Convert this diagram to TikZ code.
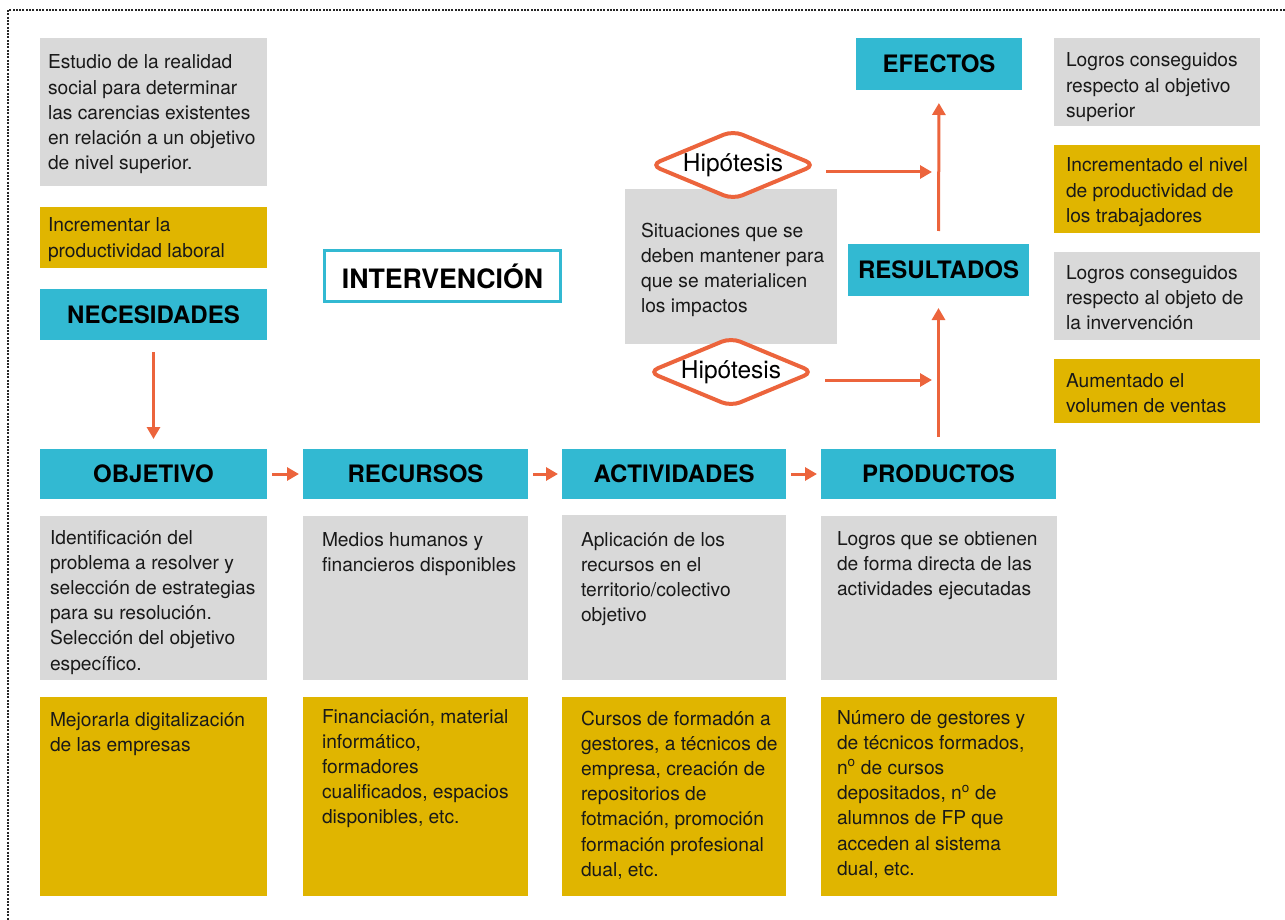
\documentclass[tikz,border=0pt]{standalone}
\usepackage{fontspec}
\setmainfont{TeX Gyre Heros}
\usetikzlibrary{arrows.meta,shapes.geometric,calc}

\definecolor{cian}{RGB}{50,185,210}
\definecolor{oro}{RGB}{224,181,0}
\definecolor{gris}{RGB}{217,217,217}
\definecolor{naranja}{RGB}{236,100,60}

% ancho, alto, margen izq., margen sup. (hasta la mayuscula), texto
\newcommand{\cajatxt}[5]{\parbox[t][#2pt][t]{#1pt}{\raggedright\leftskip=#3pt
	\rule{0pt}{\dimexpr#4pt+14pt\relax}#5}}
\newcommand{\nro}{n\textsuperscript{o}}

\begin{document}
\begin{tikzpicture}[x=1pt,y=-1pt,
	caja/.style={anchor=north west,inner sep=0pt,outer sep=0pt,
		text=black!90,font=\fontsize{19.2}{25.2}\selectfont},
	cabecera/.style={anchor=north west,fill=cian,inner sep=0pt,outer sep=0pt,
		font=\fontsize{24}{28}\selectfont\bfseries},
	hipotesis/.style={diamond,aspect=2.3,minimum width=166pt,minimum height=70pt,
		inner sep=0pt,draw=naranja,line width=4pt,fill=white,rounded corners=10pt,
		font=\fontsize{24.5}{28}\selectfont},
	flecha/.style={naranja,line width=3pt,-{Triangle[length=12pt,width=13pt]}},
	marco/.style={line width=2pt,dash pattern=on 2pt off 1.3pt,black!85}]

\useasboundingbox (0,0) rectangle (1285,920);

\draw[marco] (1285,10)--(8,10)--(8,920);

% columna izquierda
\node[caja,fill=gris] (estudio) at (40,38) {\cajatxt{227}{148}{8}{17}{Estudio de la realidad\\
	social para determinar\\las carencias existentes\\en relación a un objetivo\\de nivel superior.}};
\node[caja,fill=oro] (incrementar) at (40,207) {\cajatxt{227}{61}{8}{11}{Incrementar la\\productividad laboral}};
\node[cabecera,minimum width=227pt,minimum height=51pt] (necesidades) at (40,289) {NECESIDADES};

\node[draw=cian,line width=3pt,fill=white,minimum width=236pt,minimum height=51pt,inner sep=0pt,
	font=\fontsize{26.7}{30}\selectfont\bfseries] (intervencion) at (442.5,276) {INTERVENCIÓN};

% fila de cabeceras
\node[cabecera,minimum width=227pt,minimum height=50pt] (objetivo) at (40,449) {OBJETIVO};
\node[cabecera,minimum width=225pt,minimum height=50pt] (recursos) at (303,449) {RECURSOS};
\node[cabecera,minimum width=224pt,minimum height=50pt] (actividades) at (562,449) {ACTIVIDADES};
\node[cabecera,minimum width=235pt,minimum height=50pt] (productos) at (821,449) {PRODUCTOS};

% descripciones
\node[caja,fill=gris] (descobj) at (40,516) {\cajatxt{227}{164}{10}{14}{Identificación del\\
	problema a resolver y\\selección de estrategias\\para su resolución.\\Selección del objetivo\\específico.}};
\node[caja,fill=gris] (descrec) at (303,516) {\cajatxt{225}{164}{19}{16}{Medios humanos y\\financieros disponibles}};
\node[caja,fill=gris] (descact) at (562,515) {\cajatxt{224}{165}{19}{17}{Aplicación de los\\
	recursos en el\\territorio/colectivo\\objetivo}};
\node[caja,fill=gris] (descprod) at (821,516) {\cajatxt{236}{164}{16}{15}{Logros que se obtienen\\
	de forma directa de las\\actividades ejecutadas}};

% ejemplos
\node[caja,fill=oro] (ejobj) at (40,697) {\cajatxt{227}{199}{10}{15}{Mejorarla digitalización\\de las empresas}};
\node[caja,fill=oro] (ejrec) at (303,697) {\cajatxt{225}{199}{19}{12}{Financiación, material\\
	informático,\\formadores\\cualificados, espacios\\disponibles, etc.}};
\node[caja,fill=oro] (ejact) at (562,697) {\cajatxt{224}{199}{19}{14}{Cursos de formadón a\\
	gestores, a técnicos de\\empresa, creación de\\repositorios de\\fotmación, promoción\\
	formación profesional\\dual, etc.}};
\node[caja,fill=oro] (ejprod) at (821,697) {\cajatxt{236}{199}{16}{13}{Número de gestores y\\
	de técnicos formados,\\\nro{} de cursos\\depositados, \nro{} de\\alumnos de FP que\\
	acceden al sistema\\dual, etc.}};

% resultados y efectos
\node[cabecera,minimum width=166pt,minimum height=52pt] (efectos) at (856,38) {EFECTOS};
\node[cabecera,minimum width=181pt,minimum height=52pt] (resultados) at (848,244) {RESULTADOS};

\node[caja,fill=gris] (situaciones) at (625,189) {\cajatxt{212}{155}{16}{34}{Situaciones que se\\
	deben mantener para\\que se materialicen\\los impactos}};
\node[hipotesis] (hip1) at (733,165) {Hipótesis};
\node[hipotesis] (hip2) at (731,372) {Hipótesis};

% columna derecha
\node[caja,fill=gris] (logros1) at (1054,38) {\cajatxt{206}{88}{12}{15}{Logros conseguidos\\
	respecto al objetivo\\superior}};
\node[caja,fill=oro] (incrementado) at (1054,145) {\cajatxt{206}{88}{12}{13}{Incrementado el nivel\\
	de productividad de\\los trabajadores}};
\node[caja,fill=gris] (logros2) at (1054,252) {\cajatxt{206}{88}{12}{13}{Logros conseguidos\\
	respecto al objeto de\\la invervención}};
\node[caja,fill=oro] (aumentado) at (1054,359) {\cajatxt{206}{64}{12}{14}{Aumentado el\\volumen de ventas}};

% flechas
\draw[flecha,shorten <=12pt,shorten >=10pt] (necesidades)--(objetivo);
\draw[flecha,shorten <=5pt,shorten >=4pt] (objetivo)--(recursos);
\draw[flecha,shorten <=5pt,shorten >=4pt] (recursos)--(actividades);
\draw[flecha,shorten <=5pt,shorten >=4pt] (actividades)--(productos);
\draw[flecha,shorten <=12pt,shorten >=12pt] (productos)--(resultados);
\draw[flecha,shorten <=13pt,shorten >=13pt] (resultados)--(efectos);

\coordinate (h1) at (932,172);
\coordinate (h2) at (932,380);
\draw[flecha] ([shift={(8,7)}]hip1.east)--(h1);
\draw[flecha] ([shift={(9,8)}]hip2.east)--(h2);

\end{tikzpicture}
\end{document}
